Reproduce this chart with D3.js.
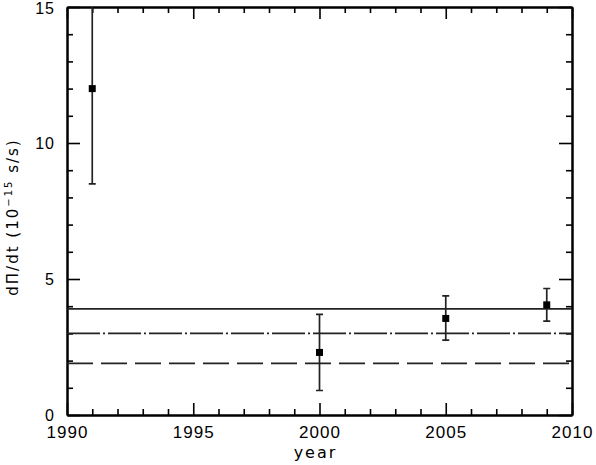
<!DOCTYPE html>
<html>
<head>
<meta charset="utf-8">
<script src="https://cdn.jsdelivr.net/npm/d3@7"></script>
<style>
  body { margin: 0; background: #fff; }
  svg { display: block; }
  .tick text { font-family: "Liberation Sans", Arial, sans-serif; font-size: 17px; letter-spacing: 1px; fill: #000; }
  .yax .tick text { font-size: 16px; }
</style>
</head>
<body>
<svg width="596" height="465"></svg>
<script>
let years = [1991, 2000, 2005, 2009];
let pdot = [12.0, 2.3, 3.55, 4.05];
let errLow = [8.5, 0.9, 2.75, 3.45];
let errHigh = [15.6, 3.7, 4.38, 4.65];

// horizontal reference levels
let levels = [3.9, 3.0, 1.9];
let levelDash = ["none", "33,3,2,3", "26,8"];

let xMajor = [1990, 1995, 2000, 2005, 2010];
let yMajor = [0, 5, 10, 15];

let margin = {left: 67, right: 24, top: 7, bottom: 50};
let svg = d3.select("svg");
let W = 596, H = 465;
let w = W - margin.left - margin.right, h = H - margin.top - margin.bottom;

let x = d3.scaleLinear().domain([1990, 2010]).range([0, w]);
let y = d3.scaleLinear().domain([0, 15]).range([h, 0]);

let g = svg.append("g").attr("transform", "translate(" + margin.left + "," + margin.top + ")");

svg.append("defs").append("clipPath").attr("id", "plotclip")
  .append("rect").attr("width", w).attr("height", h);

let xMinor = d3.range(1990, 2011, 1).filter(d => d % 5 !== 0);
let yMinor = d3.range(0, 16, 1).filter(d => d % 5 !== 0);

function styleAxis(sel) {
  sel.selectAll("path.domain").attr("stroke", "#000").attr("stroke-width", 2);
  sel.selectAll(".tick line").attr("stroke", "#000").attr("stroke-width", 1.6);
}

// bottom
g.append("g").attr("transform", "translate(0," + h + ")")
  .call(d3.axisBottom(x).tickValues(xMajor).tickSize(-12).tickSizeOuter(0).tickPadding(11).tickFormat(d3.format("d")))
  .call(styleAxis);
g.append("g").attr("transform", "translate(0," + h + ")")
  .call(d3.axisBottom(x).tickValues(xMinor).tickSize(-6).tickSizeOuter(0).tickFormat(""))
  .call(styleAxis);
// top
g.append("g")
  .call(d3.axisTop(x).tickValues(xMajor).tickSize(-12).tickSizeOuter(0).tickFormat(""))
  .call(styleAxis);
g.append("g")
  .call(d3.axisTop(x).tickValues(xMinor).tickSize(-6).tickSizeOuter(0).tickFormat(""))
  .call(styleAxis);
// left
g.append("g").attr("class", "yax")
  .call(d3.axisLeft(y).tickValues(yMajor).tickSize(-13).tickSizeOuter(0).tickPadding(12).tickFormat(d3.format("d")))
  .call(styleAxis)
  .selectAll(".tick text").attr("dy", d => d === 15 ? "0.42em" : "0.32em");
g.append("g")
  .call(d3.axisLeft(y).tickValues(yMinor).tickSize(-6).tickSizeOuter(0).tickFormat(""))
  .call(styleAxis);
// right
g.append("g").attr("transform", "translate(" + w + ",0)")
  .call(d3.axisRight(y).tickValues(yMajor).tickSize(-13).tickSizeOuter(0).tickFormat(""))
  .call(styleAxis);
g.append("g").attr("transform", "translate(" + w + ",0)")
  .call(d3.axisRight(y).tickValues(yMinor).tickSize(-6).tickSizeOuter(0).tickFormat(""))
  .call(styleAxis);

// reference lines
g.selectAll("line.level")
  .data(levels).enter()
  .append("line")
  .attr("class", "level")
  .attr("x1", 0).attr("x2", w)
  .attr("y1", d => y(d)).attr("y2", d => y(d))
  .attr("stroke", "#222")
  .attr("stroke-width", 1.7)
  .attr("stroke-dasharray", (d, i) => levelDash[i]);

let pts = years.map((yr, i) => ({yr: yr, v: pdot[i], lo: errLow[i], hi: errHigh[i]}));
let pg = g.append("g").attr("clip-path", "url(#plotclip)");

pg.selectAll("line.bar")
  .data(pts).enter()
  .append("line")
  .attr("x1", d => x(d.yr)).attr("x2", d => x(d.yr))
  .attr("y1", d => y(d.lo)).attr("y2", d => y(d.hi))
  .attr("stroke", "#222").attr("stroke-width", 1.7);

pg.selectAll("path.cap")
  .data(pts).enter()
  .append("path")
  .attr("d", d => "M" + (x(d.yr) - 3.5) + "," + y(d.lo) + "h7" +
                  "M" + (x(d.yr) - 3.5) + "," + y(d.hi) + "h7")
  .attr("stroke", "#222").attr("stroke-width", 1.7);

pg.selectAll("rect.pt")
  .data(pts).enter()
  .append("rect")
  .attr("x", d => x(d.yr) - 3.5)
  .attr("y", d => y(d.v) - 3.5)
  .attr("width", 7).attr("height", 7)
  .attr("fill", "#000");

// axis titles
svg.append("text")
  .attr("x", margin.left + w / 2 - 4)
  .attr("y", 458)
  .attr("text-anchor", "middle")
  .style("font-family", "'DejaVu Sans', sans-serif")
  .style("font-size", "16px")
  .style("letter-spacing", "2px")
  .text("year");

let yl = svg.append("text")
  .attr("transform", "translate(18,217) rotate(-90)")
  .attr("text-anchor", "middle")
  .style("font-family", "'DejaVu Sans', sans-serif")
  .style("font-size", "15px")
  .style("letter-spacing", "2px");
yl.append("tspan").text("d\u03A0/dt (10");
yl.append("tspan").attr("dy", -6).style("font-size", "10px").text("\u221215");
yl.append("tspan").attr("dy", 6).text(" s/s)");
</script>
</body>
</html>
